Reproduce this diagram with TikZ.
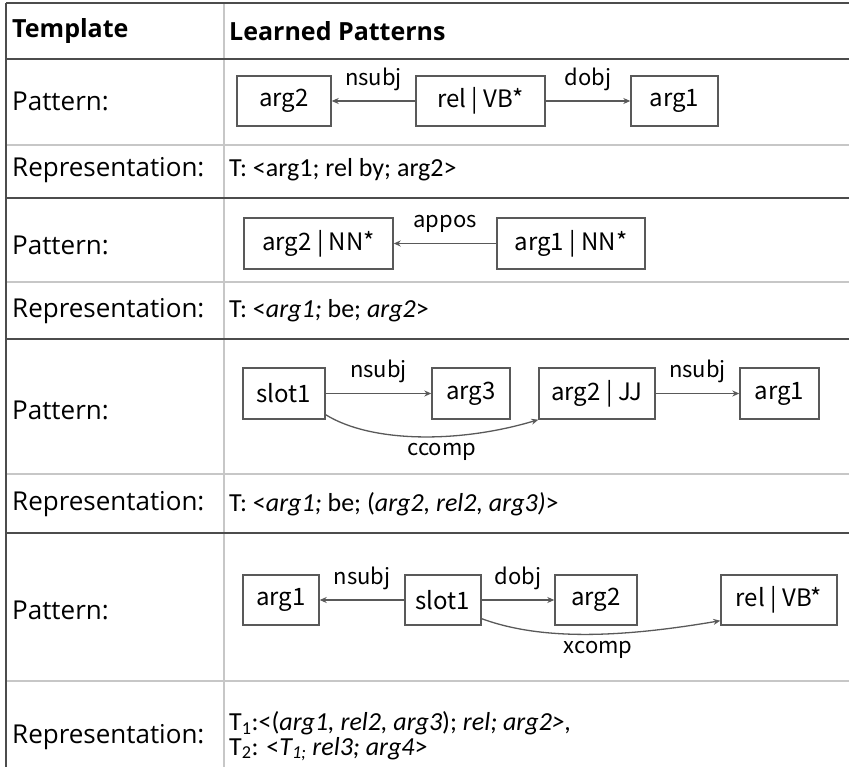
\documentclass[tikz,border=0pt]{standalone}
\usepackage{fontspec}
\setmainfont{Open Sans}
\newfontfamily\boxfont{Noto Sans CJK SC}
\newfontfamily\repfont{Carlito}
\usetikzlibrary{arrows.meta}
\begin{document}
\begin{tikzpicture}[x=1pt,y=-1pt,
  darkline/.style={draw=black!70, line width=1.6pt},
  lightline/.style={draw=black!22, line width=1.6pt},
  hdr/.style={anchor=west, inner sep=0pt, font=\fontsize{25}{29}\selectfont\bfseries},
  lefttxt/.style={anchor=west, inner sep=0pt, font=\fontsize{26}{30}\selectfont},
  reptxt/.style={anchor=west, inner sep=0pt, font=\repfont\fontsize{26}{30}\selectfont},
  wbox/.style={draw=black!65, line width=1.4pt, inner sep=0pt, font=\boxfont\fontsize{24}{28}\selectfont},
  lab/.style={inner sep=0pt, font=\boxfont\fontsize{22}{25}\selectfont},
  arr/.style={draw=black!65, line width=1.3pt, -{Stealth[length=7pt,width=6pt]}},
]
\useasboundingbox (0,0) rectangle (849,767);
% table lines
\draw[lightline] (224,3) -- (224,767);
\draw[lightline] (6,145) -- (849,145);
\draw[lightline] (6,282) -- (849,282);
\draw[lightline] (6,474) -- (849,474);
\draw[lightline] (6,681) -- (849,681);
\draw[darkline] (6,3) -- (849,3);
\draw[darkline] (6,59) -- (849,59);
\draw[darkline] (6,198) -- (849,198);
\draw[darkline] (6,339) -- (849,339);
\draw[darkline] (6,533) -- (849,533);
\draw[darkline] (6,3) -- (6,767);
% left column
\node[hdr] (h1) at (12,31) {Template};
\node[hdr] (h2) at (229,31) {Learned Patterns};
\node[lefttxt] (l1) at (12,101) {Pattern:};
\node[lefttxt] (l2) at (12,170) {Representation:};
\node[lefttxt] (l3) at (12,245) {Pattern:};
\node[lefttxt] (l4) at (12,311) {Representation:};
\node[lefttxt] (l5) at (12,410) {Pattern:};
\node[lefttxt] (l6) at (12,504) {Representation:};
\node[lefttxt] (l7) at (12,610) {Pattern:};
\node[lefttxt] (l8) at (12,737) {Representation:};
% representations
\node[reptxt] (r1) at (229,170) {T: <arg1; rel by; arg2>};
\node[reptxt] (r2) at (229,311) {T: <\textit{arg1;} be; \textit{arg2}>};
\node[reptxt] (r3) at (229,504) {T: <\textit{arg1;} be; (\textit{arg2, rel2, arg3)}>};
\node[reptxt] (r4a) at (229,723) {T\textsubscript{1}:<(\textit{arg1, rel2, arg3}); \textit{rel; arg2>,}};
\node[reptxt] (r4b) at (229,749) {T\textsubscript{2}: <\textit{T\textsubscript{1;} rel3; arg4}>};
% row 1
\node[wbox, minimum width=94pt, minimum height=50pt] (a1) at (284,101) {arg2};
\node[wbox, minimum width=129pt, minimum height=50pt] (a2) at (480.5,101) {rel | VB*};
\node[wbox, minimum width=87pt, minimum height=50pt] (a3) at (674.5,101) {arg1};
\draw[arr] (a2) -- node[lab, above=10pt] (la1) {nsubj} (a1);
\draw[arr] (a2) -- node[lab, above=10pt] (la2) {dobj} (a3);
% row 2
\node[wbox, minimum width=149pt, minimum height=51pt] (b1) at (318.5,243.5) {arg2 | NN*};
\node[wbox, minimum width=148pt, minimum height=51pt] (b2) at (571,243.5) {arg1 | NN*};
\draw[arr] (b2) -- node[lab, above=10pt] (lb1) {appos} (b1);
% row 3
\node[wbox, minimum width=82pt, minimum height=51pt] (c1) at (284,393.5) {slot1};
\node[wbox, minimum width=78pt, minimum height=51pt] (c2) at (471,393.5) {arg3};
\node[wbox, minimum width=116pt, minimum height=51pt] (c3) at (597,393.5) {arg2 | JJ};
\node[wbox, minimum width=79pt, minimum height=51pt] (c4) at (779.5,393.5) {arg1};
\draw[arr] (c1) -- node[lab, above=10pt] (lc1) {nsubj} (c2);
\draw[arr] (c3) -- node[lab, above=10pt] (lc2) {nsubj} (c4);
\draw[arr] ([yshift=5pt]c1.south east) .. controls +(45,28) and +(-80,24) .. node[lab, below=6pt, pos=0.6] (lc3) {ccomp} (c3.south west);
% row 4
\node[wbox, minimum width=76pt, minimum height=50pt] (d1) at (281,600) {arg1};
\node[wbox, minimum width=76pt, minimum height=50pt] (d2) at (443,600) {slot1};
\node[wbox, minimum width=82pt, minimum height=50pt] (d3) at (596,600) {arg2};
\node[wbox, minimum width=116pt, minimum height=50pt] (d4) at (779,600) {rel | VB*};
\draw[arr] (d2) -- node[lab, above=10pt] (ld1) {nsubj} (d1);
\draw[arr] (d2) -- node[lab, above=10pt] (ld2) {dobj} (d3);
\draw[arr] ([yshift=7pt]d2.south east) .. controls +(60,22) and +(-100,17) .. node[lab, below=6pt, pos=0.55] (ld3) {xcomp} ([yshift=5pt]d4.south west);
\end{tikzpicture}
\end{document}
